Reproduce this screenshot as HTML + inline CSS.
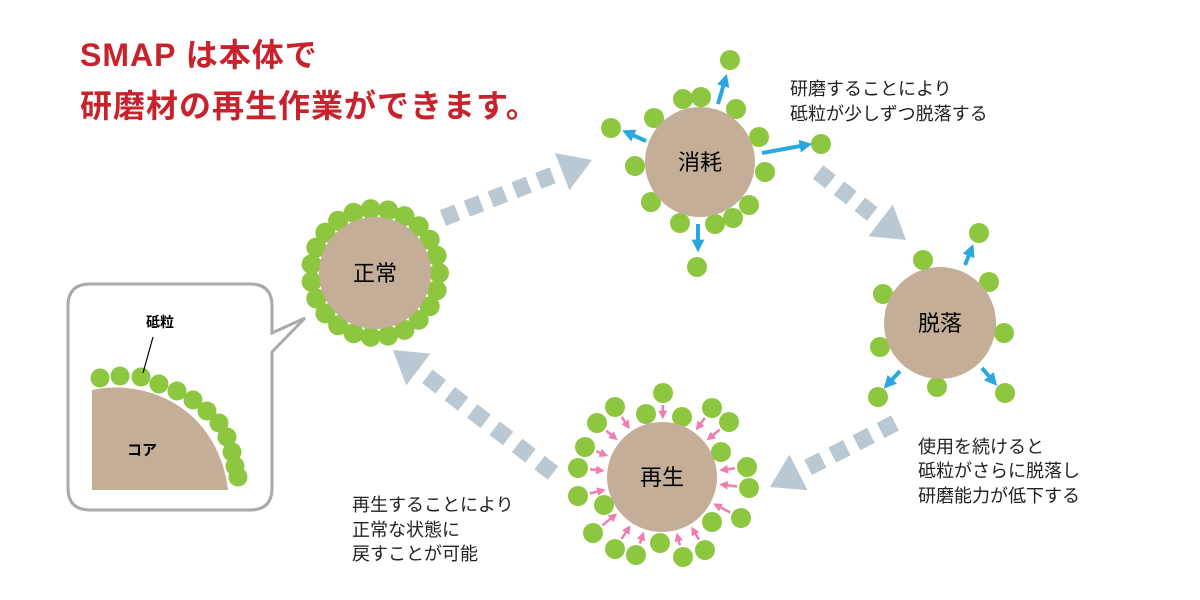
<!DOCTYPE html>
<html><head><meta charset="utf-8"><style>
body{margin:0;background:#fff;width:1200px;height:600px;overflow:hidden}
svg{display:block}
text{font-family:"Liberation Sans","Noto Sans CJK JP",sans-serif}
</style></head><body>
<svg id="s" width="1200" height="600" viewBox="0 0 1200 600" xmlns="http://www.w3.org/2000/svg">
<defs>
<marker id="bh" viewBox="0 0 10 10" refX="5" refY="5" markerWidth="3.2" markerHeight="3.2" orient="auto"><path d="M0,0L10,5L0,10z" fill="#29a8e0"/></marker>
<marker id="ph" viewBox="0 0 10 10" refX="5" refY="5" markerWidth="3.5" markerHeight="3.5" orient="auto"><path d="M0,0L10,5L0,10z" fill="#f07cb0"/></marker>
</defs>
<text x="80" y="66" font-size="32" font-weight="bold" fill="#c8232c" letter-spacing="1">SMAP は本体で</text>
<text x="80" y="117" font-size="32" font-weight="bold" fill="#c8232c" letter-spacing="1">研磨材の再生作業ができます。</text>

<g fill="#b9c8d2">
<g id="da"></g>
</g>

<path d="M90,284 H250 Q272,284 272,306 V333 L305,318 L272,352 V488 Q272,510 250,510 H90 Q68,510 68,488 V306 Q68,284 90,284 Z" fill="#fff" stroke="#aaa" stroke-width="3"/>
<path d="M92,490 V390 C150,378 218,410 228,490 Z" fill="#c4ae98"/>
<g id="qd" fill="#8dc63f"></g>
<line x1="153" y1="337" x2="143" y2="373" stroke="#000" stroke-width="1.2"/>
<text x="160" y="327" font-size="14" font-weight="bold" text-anchor="middle">砥粒</text>
<text x="142" y="455" font-size="15" font-weight="bold" text-anchor="middle">コア</text>

<g id="main"></g>

<g font-size="18" fill="#222">
<text x="790" y="95">研磨することにより</text>
<text x="790" y="120">砥粒が少しずつ脱落する</text>
<text x="918" y="453">使用を続けると</text>
<text x="918" y="477">砥粒がさらに脱落し</text>
<text x="918" y="502">研磨能力が低下する</text>
<text x="352" y="511">再生することにより</text>
<text x="352" y="536">正常な状態に</text>
<text x="352" y="560">戻すことが可能</text>
</g>
</svg>
<script>
const NS="http://www.w3.org/2000/svg";
function el(p,t,a){const e=document.createElementNS(NS,t);for(const k in a)e.setAttribute(k,a[k]);p.appendChild(e);return e;}
const G=document.getElementById('main'),green="#8dc63f",brown="#c4ae98";
const da=document.getElementById('da');
function dash(x1,y1,x2,y2,n){
 const dx=x2-x1,dy=y2-y1,L=Math.hypot(dx,dy),ux=dx/L,uy=dy/L,px=-uy,py=ux;
 const head=32,body=L-head;const seg=body/n;
 for(let i=0;i<n;i++){const a=i*seg,b=a+seg*0.6;
  const ax=x1+ux*a,ay=y1+uy*a,bx=x1+ux*b,by=y1+uy*b,w=8.5;
  el(da,'polygon',{points:`${ax+px*w},${ay+py*w} ${bx+px*w},${by+py*w} ${bx-px*w},${by-py*w} ${ax-px*w},${ay-py*w}`});}
 const hx=x1+ux*body,hy=y1+uy*body,w=20;
 el(da,'polygon',{points:`${hx+px*w},${hy+py*w} ${x2},${y2} ${hx-px*w},${hy-py*w}`});
}
dash(443,218,592,160,5);
dash(818,172,906,240,3);
dash(895,423,770,487,4);
dash(553,473,393,350,6);
const qd=document.getElementById('qd');
[[100,378],[120,376],[141,377],[159,384],[177,391],[193,400],[207,411],[219,423],[227,437],[232,452],[235,466],[238,477]].forEach(p=>el(qd,'circle',{cx:p[0],cy:p[1],r:9.5}));
(function(){const cx=375,cy=273;const n=23;for(let i=0;i<n;i++){const a=i/n*2*Math.PI;el(G,'circle',{cx:cx+64*Math.cos(a),cy:cy+64*Math.sin(a),r:10,fill:green});}
el(G,'circle',{cx,cy,r:56,fill:brown});el(G,'text',{x:cx,y:cy+8,'font-size':22,'text-anchor':'middle'}).textContent='正常';})();
(function(){const cx=700,cy=162;
[[730,60],[683,99],[701,97],[736,109],[611,128],[654,118],[759,137],[821,144],[635,166],[765,172],[651,202],[749,205],[733,218],[715,224],[680,223],[697,267]].forEach(p=>el(G,'circle',{cx:p[0],cy:p[1],r:10,fill:green}));
el(G,'circle',{cx,cy,r:55,fill:brown});
[[718,104,725,80],[646,141,628,133],[762,153,806,145],[698,224,698,246]].forEach(a=>el(G,'line',{x1:a[0],y1:a[1],x2:a[2],y2:a[3],stroke:'#29a8e0','stroke-width':4,'marker-end':'url(#bh)'}));
el(G,'text',{x:cx,y:cy+8,'font-size':22,'text-anchor':'middle'}).textContent='消耗';})();
(function(){const cx=940,cy=323;
[[979,233],[923,260],[989,282],[883,294],[1004,333],[880,347],[937,387],[878,397],[1005,393]].forEach(p=>el(G,'circle',{cx:p[0],cy:p[1],r:10,fill:green}));
el(G,'circle',{cx,cy,r:56,fill:brown});
[[965,265,971,250],[900,371,888,384],[982,368,993,381]].forEach(a=>el(G,'line',{x1:a[0],y1:a[1],x2:a[2],y2:a[3],stroke:'#29a8e0','stroke-width':4,'marker-end':'url(#bh)'}));
el(G,'text',{x:cx,y:cy+8,'font-size':22,'text-anchor':'middle'}).textContent='脱落';})();
(function(){const cx=662,cy=477;
const d=[[663,393],[615,407],[646,414],[682,417],[712,408],[729,422],[597,423],[585,447],[721,452],[578,468],[747,467],[749,488],[578,496],[604,505],[741,518],[712,522],[593,533],[660,543],[615,549],[636,555],[683,557],[705,550]];
d.forEach(p=>el(G,'circle',{cx:p[0],cy:p[1],r:10,fill:green}));
el(G,'circle',{cx,cy,r:55,fill:brown});
d.forEach(p=>{const dx=p[0]-cx,dy=p[1]-cy,L=Math.hypot(dx,dy),ux=dx/L,uy=dy/L;
 if(L<70)return;
 const r1=Math.min(L-12,78),r2=62;
 el(G,'line',{x1:cx+ux*r1,y1:cy+uy*r1,x2:cx+ux*r2,y2:cy+uy*r2,stroke:'#f07cb0','stroke-width':2.5,'marker-end':'url(#ph)'});});
el(G,'text',{x:cx,y:cy+8,'font-size':22,'text-anchor':'middle'}).textContent='再生';})();
</script>
</body></html>
